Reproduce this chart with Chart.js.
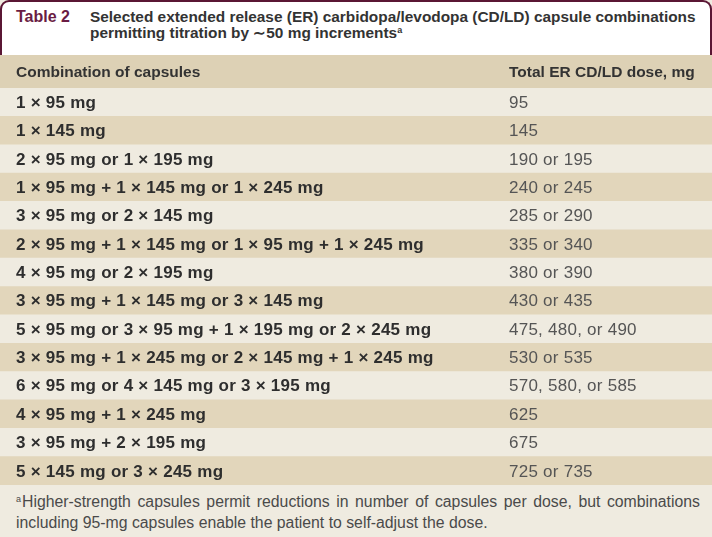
<!DOCTYPE html>
<html>
<head>
<meta charset="utf-8">
<script src="https://cdn.jsdelivr.net/npm/chart.js@4.4.1/dist/chart.umd.min.js"></script>
<style>
  body { margin: 0; background: #ffffff; }
  #wrap { position: relative; width: 712px; height: 537px; overflow: hidden; background: #efebe0; font-family: "Liberation Sans", Arial, sans-serif; }
  #title { position: absolute; left: 0; top: 0; width: 712px; height: 56px; box-sizing: border-box;
           border: 2.5px solid #5a1634; border-bottom: none; border-radius: 9px 9px 0 0; background: #ffffff; }
  #tnum { position: absolute; left: 14px; top: 7px; color: #6a1c44; font-weight: bold; font-size: 16px; line-height: 16px; }
  #ttext { position: absolute; left: 88px; top: 7px; width: 620px; color: #333; font-weight: bold; font-size: 15.4px;
           line-height: 16px; white-space: nowrap; }
  #ttext sup { font-size: 9px; vertical-align: 5px; line-height: 0; }
  #plot { position: absolute; left: 0; top: 55px; width: 712px; height: 430px; }
  #note { position: absolute; left: 16px; top: 491px; width: 684px; color: #4a4a4a; font-size: 15.8px; line-height: 21px;
          text-align: justify; }
  #note sup { font-size: 9px; vertical-align: 5px; line-height: 0; margin-right: 1px; }
</style>
</head>
<body>
<div id="wrap">
  <div id="title">
    <div id="tnum">Table 2</div>
    <div id="ttext">Selected extended release (ER) carbidopa/levodopa (CD/LD) capsule combinations<br>permitting titration by ∼50 mg increments<sup>a</sup></div>
  </div>
  <div id="plot"><canvas id="tableChart"></canvas></div>
  <div id="note"><sup>a</sup>Higher-strength capsules permit reductions in number of capsules per dose, but combinations including 95-mg capsules enable the patient to self-adjust the dose.</div>
</div>
<script>
// Table content
const headers = ['Combination of capsules', 'Total ER CD/LD dose, mg'];
const combinations = [
    '1 × 95 mg',
    '1 × 145 mg',
    '2 × 95 mg or 1 × 195 mg',
    '1 × 95 mg + 1 × 145 mg or 1 × 245 mg',
    '3 × 95 mg or 2 × 145 mg',
    '2 × 95 mg + 1 × 145 mg or 1 × 95 mg + 1 × 245 mg',
    '4 × 95 mg or 2 × 195 mg',
    '3 × 95 mg + 1 × 145 mg or 3 × 145 mg',
    '5 × 95 mg or 3 × 95 mg + 1 × 195 mg or 2 × 245 mg',
    '3 × 95 mg + 1 × 245 mg or 2 × 145 mg + 1 × 245 mg',
    '6 × 95 mg or 4 × 145 mg or 3 × 195 mg',
    '4 × 95 mg + 1 × 245 mg',
    '3 × 95 mg + 2 × 195 mg',
    '5 × 145 mg or 3 × 245 mg',
];
const doses = [
    '95', '145', '190 or 195', '240 or 245', '285 or 290', '335 or 340', '380 or 390',
    '430 or 435', '475, 480, or 490', '530 or 535', '570, 580, or 585', '625', '675', '725 or 735',
];

// Draws header band and the two text columns at the row positions of the y scale
const tableText = {
    id: 'tableText',
    beforeDatasetsDraw(chart) {
        const { ctx, chartArea } = chart;
        ctx.save();
        ctx.fillStyle = '#ddd1b5';
        ctx.fillRect(0, 0, chart.width, chartArea.top);
        ctx.restore();
    },
    afterDatasetsDraw(chart) {
        const { ctx, chartArea, scales } = chart;
        const colX = [chartArea.left + 16, chartArea.left + 509];
        ctx.save();
        ctx.textBaseline = 'middle';
        ctx.fillStyle = '#333333';
        ctx.font = 'bold 15.5px "Liberation Sans", Arial, sans-serif';
        ctx.fillText(headers[0], colX[0], chartArea.top / 2 + 1);
        ctx.fillText(headers[1], colX[1], chartArea.top / 2 + 1);
        ctx.letterSpacing = '0.25px';
        combinations.forEach((c, i) => {
            const y = scales.y.getPixelForValue(i) + 1;
            ctx.font = 'bold 17px "Liberation Sans", Arial, sans-serif';
            ctx.fillStyle = '#2e2e2e';
            ctx.fillText(c, colX[0], y);
            ctx.font = '17px "Liberation Sans", Arial, sans-serif';
            ctx.fillStyle = '#555555';
            ctx.fillText(doses[i], colX[1], y);
        });
        ctx.restore();
    },
};

new Chart(document.getElementById('tableChart'), {
    type: 'bar',
    data: {
        labels: combinations,
        datasets: [
            {
                data: combinations.map(() => 1),
                backgroundColor: combinations.map((c, i) => (i % 2 === 0 ? '#efebe0' : '#e2d6bb')),
                borderWidth: 0,
                barPercentage: 1,
                categoryPercentage: 1,
            },
        ],
    },
    options: {
        indexAxis: 'y',
        responsive: true,
        maintainAspectRatio: false,
        animation: false,
        events: [],
        layout: { padding: { top: 33, left: 0, right: 0, bottom: 0 } },
        plugins: { legend: { display: false }, tooltip: { enabled: false } },
        scales: {
            x: { display: false, min: 0, max: 1 },
            y: { display: false },
        },
    },
    plugins: [tableText],
});
</script>
</body>
</html>
